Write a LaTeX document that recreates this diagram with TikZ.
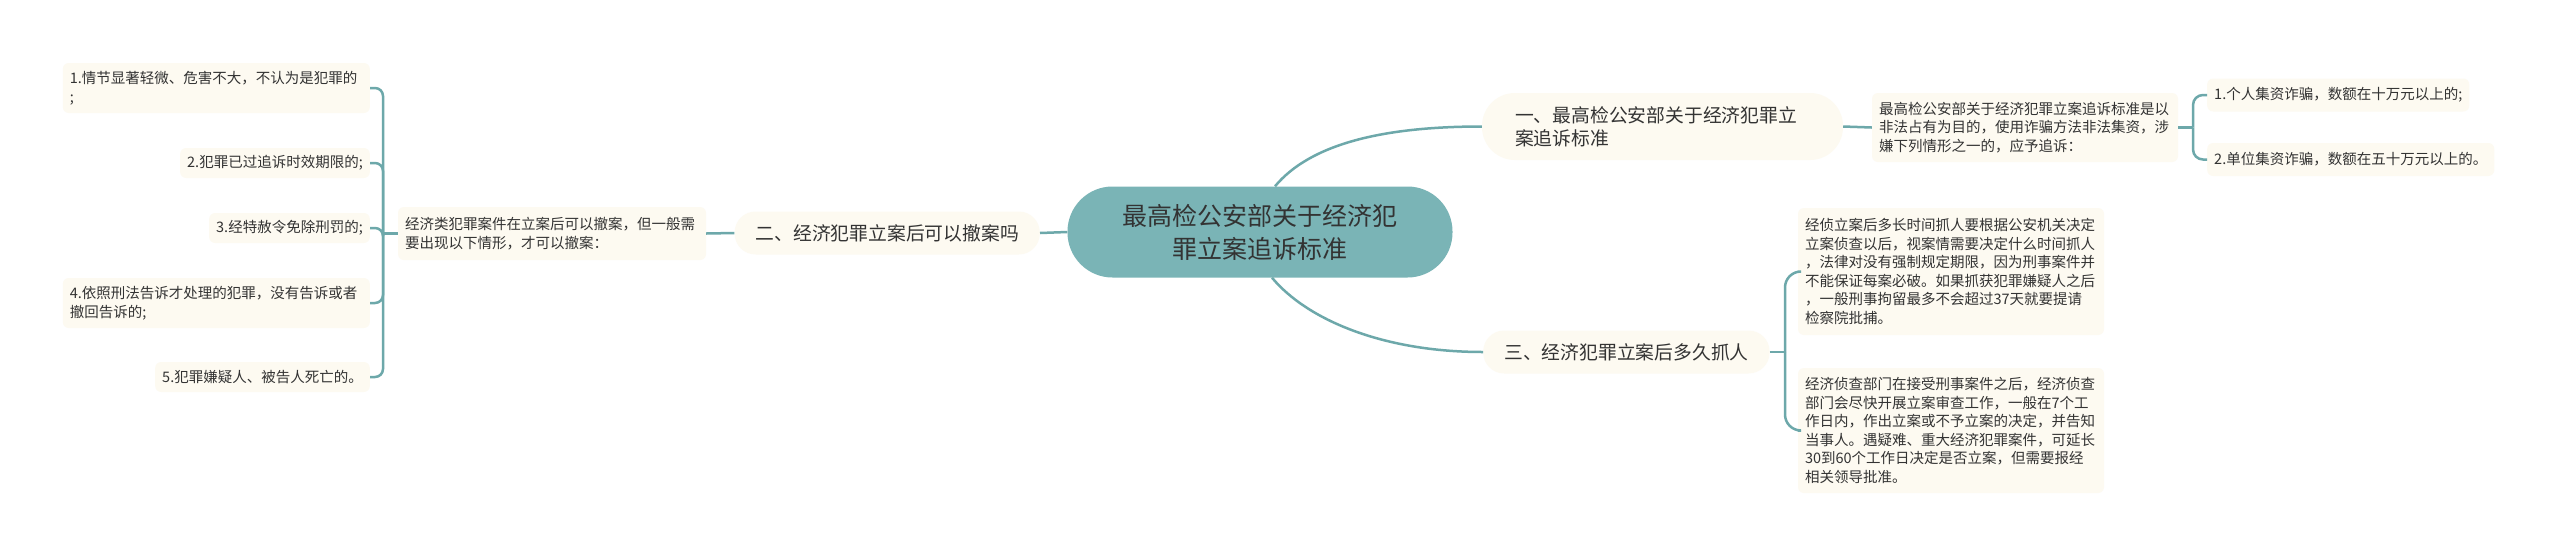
\documentclass[tikz,border=0pt]{standalone}
\usepackage{fontspec}
\setmainfont{Noto Sans CJK SC}
\definecolor{cream}{HTML}{FDFAF1}
\definecolor{tealfill}{HTML}{7AB4B6}
\definecolor{lineC}{HTML}{6DA8AA}
\definecolor{txt}{HTML}{333333}
\begin{document}
\begin{tikzpicture}[x=1pt,y=-1pt,
  base/.style={font=\fontsize{14.5}{18.6}\selectfont, text=txt, fill=cream, rounded corners=6pt, inner xsep=7pt, inner ysep=0pt, align=left},
  centralbox/.style={fill=tealfill, rounded corners=45pt, minimum width=385pt, minimum height=91pt, font=\fontsize{25}{33}\selectfont, align=center, text=txt, inner sep=0pt},
  branchbox/.style={fill=cream, rounded corners=21pt, minimum height=43pt, inner xsep=21pt, inner ysep=0pt, font=\fontsize{18.8}{23}\selectfont, text=txt, align=left},
  conn/.style={draw=lineC, line width=2.5pt}]
\useasboundingbox (0,0) rectangle (2560,558);
\fill[white] (0,0) rectangle (2560,558);

% central
\node[centralbox] (c) at (1260,232) {最高检公安部关于经济犯\\罪立案追诉标准};

% branches
\node[branchbox, rounded corners=33pt, minimum height=67pt, inner xsep=33pt, text width=295pt] (b1) at (1662.5,126.5) {一、最高检公安部关于经济犯罪立\\案追诉标准};
\node[branchbox, anchor=east] (b2) at (1040,233) {二、经济犯罪立案后可以撤案吗};
\node[branchbox, anchor=west] (b3) at (1483,352) {三、经济犯罪立案后多久抓人};

% details
\node[base, text width=292pt, minimum height=69pt] (d1) at (2025,127.5) {最高检公安部关于经济犯罪立案追诉标准是以\\非法占有为目的，使用诈骗方法非法集资，涉\\嫌下列情形之一的，应予追诉：};
\node[base, text width=294pt, minimum height=53pt] (d2) at (552,233.5) {经济类犯罪案件在立案后可以撤案，但一般需\\要出现以下情形，才可以撤案：};
\node[base, text width=292pt, minimum height=127pt] (d3a) at (1951,271.5) {经侦立案后多长时间抓人要根据公安机关决定\\立案侦查以后，视案情需要决定什么时间抓人\\，法律对没有强制规定期限，因为刑事案件并\\不能保证每案必破。如果抓获犯罪嫌疑人之后\\，一般刑事拘留最多不会超过37天就要提请\\检察院批捕。};
\node[base, text width=292pt, minimum height=125pt] (d3b) at (1951,430.5) {经济侦查部门在接受刑事案件之后，经济侦查\\部门会尽快开展立案审查工作，一般在7个工\\作日内，作出立案或不予立案的决定，并告知\\当事人。遇疑难、重大经济犯罪案件，可延长\\30到60个工作日决定是否立案，但需要报经\\相关领导批准。};

% right leaves
\node[base, anchor=west, minimum height=33pt] (r1) at (2207,95) {1.个人集资诈骗，数额在十万元以上的;};
\node[base, anchor=west, minimum height=33pt] (r2) at (2207,159.5) {2.单位集资诈骗，数额在五十万元以上的。};

% left leaves
\node[base, anchor=east, text width=293pt, minimum height=50pt] (l1) at (370,88) {1.情节显著轻微、危害不大，不认为是犯罪的\\;};
\node[base, anchor=east, minimum height=30pt] (l2) at (370,163) {2.犯罪已过追诉时效期限的;};
\node[base, anchor=east, minimum height=30pt] (l3) at (370,228) {3.经特赦令免除刑罚的;};
\node[base, anchor=east, text width=293pt, minimum height=50pt] (l4) at (370,303) {4.依照刑法告诉才处理的犯罪，没有告诉或者\\撤回告诉的;};
\node[base, anchor=east, minimum height=30pt] (l5) at (370,377) {5.犯罪嫌疑人、被告人死亡的。};

% junctions
\coordinate (jL) at (383,233.5);
\coordinate (jR) at (2193,127.5);
\coordinate (j3) at (1785,352);

% connectors
\draw[conn] ([xshift=15pt]c.north) .. controls +(35,-42) and +(-100,0) .. (b1.west);
\draw[conn] ([xshift=12pt]c.south) .. controls +(35,42) and +(-100,0) .. (b3.west);
\draw[conn] (c.west) -- (b2.east);
\draw[conn] (b2.west) -- (d2.east);
\draw[conn] (d2.west) -- (jL);
\foreach \n in {l1,l2,l3,l4,l5} \draw[conn, rounded corners=8pt] (jL) |- (\n.east);
\draw[conn] (b1.east) -- (d1.west);
\draw[conn] (d1.east) -- (jR);
\foreach \n in {r1,r2} \draw[conn, rounded corners=10pt] (jR) |- (\n.west);
\draw[conn] (b3.east) -- (j3);
\foreach \n in {d3a,d3b} \draw[conn, rounded corners=16pt] (j3) |- (\n.west);
\end{tikzpicture}
\end{document}
